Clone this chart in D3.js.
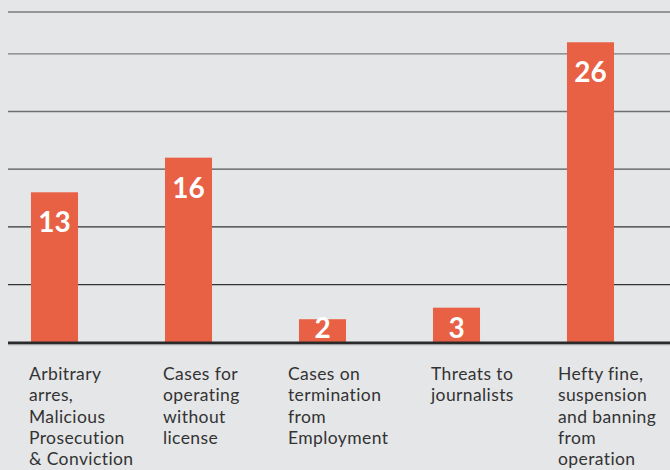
<!DOCTYPE html>
<html>
<head>
<meta charset="utf-8">
<script src="https://cdn.jsdelivr.net/npm/d3@7"></script>
<style>
  html, body { margin: 0; padding: 0; background: #e5e6e8; }
  svg { display: block; }
</style>
</head>
<body>
<div id="chart"></div>
<script>
// Datos del grafico
const categories = [
  "Arbitrary\narres,\nMalicious\nProsecution\n& Conviction",
  "Cases for\noperating\nwithout\nlicense",
  "Cases on\ntermination\nfrom\nEmployment",
  "Threats to\njournalists",
  "Hefty fine,\nsuspension\nand banning\nfrom\noperation"
];
const cases = [13, 16, 2, 3, 26];
const gridValues = [5, 10, 15, 20, 25];

// Tamaño del lienzo
const width = 670;
const height = 470;
const baseY = 342.3;
const left = 8;

// Pequeños ajustes de las etiquetas del eje x
const labelNudge = [-2, -2, -11, -2, -9];

const svg = d3.select("#chart")
  .append("svg")
    .attr("width", width)
    .attr("height", height);

svg.append("rect")
  .attr("width", width).attr("height", height)
  .attr("fill", "#e5e6e8");

// Escalas
const x = d3.scaleBand()
  .domain(categories)
  .range([-12.5, 657.5])
  .paddingInner(0.649)
  .paddingOuter(0.3245);

const y = d3.scaleLinear()
  .domain([0, 30])
  .range([baseY, baseY - 30 * 57.7 / 5]);

// Lineas de la cuadricula
const gridColor = { 5: "#333", 10: "#333", 15: "#555", 20: "#6f6f6f", 25: "#7a7a7a" };
svg.append("g")
  .selectAll("line")
  .data(gridValues)
  .join("line")
    .attr("x1", left).attr("x2", width)
    .attr("y1", d => y(d)).attr("y2", d => y(d))
    .attr("stroke", d => gridColor[d])
    .attr("stroke-width", 1.3);

// Linea superior del marco
svg.append("line")
  .attr("x1", left).attr("x2", width)
  .attr("y1", 12).attr("y2", 12)
  .attr("stroke", "#7a7a7a").attr("stroke-width", 1.3);

// Barras
svg.append("g")
  .selectAll("rect")
  .data(cases)
  .join("rect")
    .attr("x", (d, i) => x(categories[i]))
    .attr("y", d => y(d))
    .attr("width", x.bandwidth())
    .attr("height", d => y(0) - y(d))
    .attr("fill", "#e86144");

// Eje base
svg.append("line")
  .attr("x1", left).attr("x2", width)
  .attr("y1", baseY + 0.7).attr("y2", baseY + 0.7)
  .attr("stroke", "#2a2a2a").attr("stroke-width", 2.8);
svg.append("line")
  .attr("x1", left).attr("x2", width)
  .attr("y1", baseY + 2.8).attr("y2", baseY + 2.8)
  .attr("stroke", "#c4c5c7").attr("stroke-width", 1);

// Valores dentro de las barras
svg.append("g")
  .selectAll("text")
  .data(cases)
  .join("text")
    .attr("x", (d, i) => x(categories[i]) + x.bandwidth() / 2)
    .attr("y", d => Math.min(y(d) + 40, baseY - 4))
    .attr("text-anchor", "middle")
    .style("font-family", "Lato, 'Open Sans', sans-serif")
    .style("font-weight", "700")
    .style("font-size", "28px")
    .style("fill", "#ffffff")
    .text(d => d);

// Etiquetas de las categorias
const labels = svg.append("g")
  .selectAll("text")
  .data(categories)
  .join("text")
    .attr("x", (d, i) => x(d) + labelNudge[i])
    .attr("y", 380)
    .style("font-family", "Lato, 'Open Sans', sans-serif")
    .style("font-size", "17.5px")
    .style("letter-spacing", "0.4px")
    .style("fill", "#333333");

labels.each(function(d, i) {
  const t = d3.select(this);
  d.split("\n").forEach((line, k) => {
    t.append("tspan")
      .attr("x", x(d) + labelNudge[i])
      .attr("dy", k === 0 ? 0 : 21.3)
      .text(line);
  });
});
</script>
</body>
</html>
